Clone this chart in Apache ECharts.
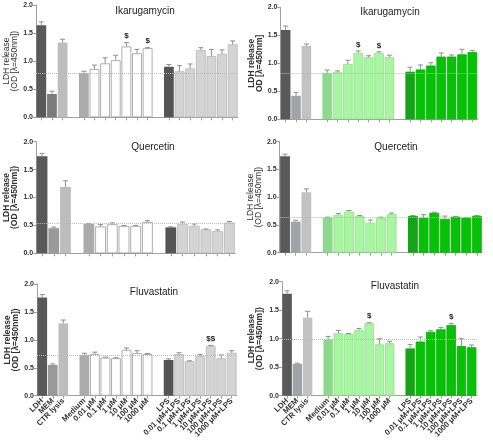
<!DOCTYPE html>
<html><head><meta charset="utf-8">
<script src="https://cdn.jsdelivr.net/npm/echarts@6/dist/echarts.min.js"></script>
<style>html,body{margin:0;padding:0;background:#fff}#c{width:493px;height:444px}</style>
</head><body><div id="c"></div>
<script>
// ---------- DATA ----------
const controlLabels = ['LDH', 'MEM', 'CTR lysis'];
const concLabels6 = ['0.01 μM', '0.1 μM', '1 μM', '10 μM', '100 μM', '1000 μM'];
const concLabels5 = ['0.01 μM', '0.1 μM', '1 μM', '10 μM', '100 μM'];
const yTickValues = [0, 0.5, 1.0, 1.5, 2.0];
const titles = ['Ikarugamycin', 'Quercetin', 'Fluvastatin'];

// order: LDH, MEM, CTR lysis, Medium, concentrations..., LPS, concentrations+LPS...
const ikaLeftVals = [1.64, 0.415, 1.33, 0.79, 0.86, 0.96, 1.015, 1.26, 1.14, 1.23, 0.90, 0.82, 0.87, 1.20, 1.09, 1.13, 1.30];
const ikaLeftErr  = [0.06, 0.05, 0.06, 0.03, 0.07, 0.10, 0.09, 0.07, 0.07, 0.01, 0.04, 0.10, 0.08, 0.04, 0.12, 0.07, 0.06];
const ikaLeftSig  = ['', '', '', '', '', '', '', '$', '', '$', '', '', '', '', '', '', ''];

const ikaRightVals = [1.595, 0.42, 1.31, 0.83, 0.84, 0.99, 1.185, 1.11, 1.185, 1.11, 0.85, 0.89, 0.96, 1.12, 1.12, 1.16, 1.20];
const ikaRightErr  = [0.07, 0.06, 0.035, 0.05, 0.025, 0.065, 0.035, 0.025, 0.02, 0.035, 0.08, 0.08, 0.05, 0.065, 0.03, 0.09, 0.03];
const ikaRightSig  = ['', '', '', '', '', '', '$', '', '$', '', '', '', '', '', '', '', ''];

const queLeftVals = [1.74, 0.45, 1.19, 0.525, 0.48, 0.52, 0.49, 0.49, 0.56, 0.465, 0.525, 0.49, 0.43, 0.40, 0.55];
const queLeftErr  = [0.05, 0.02, 0.11, 0.01, 0.035, 0.025, 0.01, 0.01, 0.025, 0.01, 0.035, 0.035, 0.005, 0.02, 0.02];
const queLeftSig  = ['', '', '', '', '', '', '', '', '', '', '', '', '', '', ''];

const queRightVals = [1.74, 0.56, 1.09, 0.63, 0.68, 0.74, 0.66, 0.54, 0.63, 0.695, 0.66, 0.63, 0.72, 0.61, 0.65, 0.63, 0.665];
const queRightErr  = [0.035, 0.025, 0.06, 0.01, 0.025, 0.02, 0.01, 0.05, 0.01, 0.02, 0.01, 0.055, 0.01, 0.05, 0.005, 0.005, 0.005];
const queRightSig  = ['', '', '', '', '', '', '', '', '', '', '', '', '', '', '', '', ''];

const fluLeftVals = [1.76, 0.55, 1.295, 0.73, 0.745, 0.68, 0.67, 0.82, 0.76, 0.745, 0.64, 0.745, 0.62, 0.71, 0.89, 0.67, 0.77];
const fluLeftErr  = [0.05, 0.02, 0.06, 0.03, 0.035, 0.01, 0.01, 0.035, 0.045, 0.01, 0.02, 0.025, 0.005, 0.025, 0.01, 0.06, 0.035];
const fluLeftSig  = ['', '', '', '', '', '', '', '', '', '', '', '', '', '', '$$', '', ''];

const fluRightVals = [1.79, 0.56, 1.37, 0.99, 1.095, 1.08, 1.15, 1.27, 0.90, 0.92, 0.83, 0.95, 1.12, 1.165, 1.24, 0.87, 0.85];
const fluRightErr  = [0.05, 0.01, 0.11, 0.05, 0.05, 0.01, 0.03, 0.01, 0.10, 0.035, 0.07, 0.08, 0.02, 0.03, 0.025, 0.13, 0.04];
const fluRightSig  = ['', '', '', '', '', '', '', '$', '', '', '', '', '', '', '$', '', ''];

// ---------- STYLES / LAYOUT ----------
const grayPal = {ldh:'#595959', mem:'#999999', ctr:'#bdbdbd', med:'#ababab', conc:'#ffffff', concB:'#9a9a9a', lps:'#555555', comb:'#d4d4d4', combB:'#b8b8b8'};
const greenPal = {ldh:'#595959', mem:'#a2a2a9', ctr:'#c2c2c2', med:'#8cd98c', conc:'#a8f5a2', concB:'#92e08c', lps:'#17a317', comb:'#07c107', combB:'#06b006'};

const panels = [
  {vals:ikaLeftVals, err:ikaLeftErr, sig:ikaLeftSig, n:6, pal:Object.assign({}, grayPal, {mem:'#7b7b7b'}), grid:{left:36, top:5, width:202, height:112.3}, title:titles[0], tx:140, ty:1, nameBold:false, nameLines:['LDH release','(OD [λ=450nm])'], nameGap:15, labels:false},
  {vals:ikaRightVals, err:ikaRightErr, sig:ikaRightSig, n:6, pal:greenPal, grid:{left:280.5, top:7.3, width:197, height:112}, title:titles[0], tx:385, ty:2, nameBold:true, nameLines:['LDH release','OD [λ=450nm]'], nameGap:11, labels:false},
  {vals:queLeftVals, err:queLeftErr, sig:queLeftSig, n:5, pal:grayPal, grid:{left:36.2, top:141.7, width:199, height:111.6}, title:titles[1], tx:148, ty:137, nameBold:true, nameLines:['LDH release','(OD [λ=450nm])'], nameGap:15, labels:false},
  {vals:queRightVals, err:queRightErr, sig:queRightSig, n:6, pal:greenPal, grid:{left:279.7, top:141.7, width:202.5, height:111}, title:titles[1], tx:391, ty:137, nameBold:false, nameLines:['LDH release','(OD [λ=450nm])'], nameGap:17, labels:false},
  {vals:fluLeftVals, err:fluLeftErr, sig:fluLeftSig, n:6, pal:grayPal, grid:{left:37, top:284, width:200, height:111.7}, title:titles[2], tx:149, ty:282, nameBold:true, nameLines:['LDH release','(OD [λ=450nm])'], nameGap:13, labels:true},
  {vals:fluRightVals, err:fluRightErr, sig:fluRightSig, n:6, pal:greenPal, grid:{left:282, top:281.7, width:194.8, height:114}, title:titles[2], tx:390, ty:276, nameBold:true, nameLines:['LDH release','(OD [λ=450nm])'], nameGap:18, labels:true}
];

const FONT = 'Liberation Sans, Arial, sans-serif';

function buildCats(n) {
  const conc = n === 6 ? concLabels6 : concLabels5;
  return [...controlLabels, ' ', 'Medium', ...conc, '  ', 'LPS', ...conc.map(c => c + '+LPS')];
}
function slotOf(p, n) { return p < 3 ? p : (p < 4 + n ? p + 1 : p + 2); }
function kindOf(p, n) {
  if (p === 0) return 'ldh'; if (p === 1) return 'mem'; if (p === 2) return 'ctr';
  if (p === 3) return 'med'; if (p < 4 + n) return 'conc'; if (p === 4 + n) return 'lps'; return 'comb';
}

const option = {animation:false, backgroundColor:'#fff', title:[], grid:[], xAxis:[], yAxis:[], series:[]};

panels.forEach((pn, i) => {
  const cats = buildCats(pn.n);
  option.title.push({text:pn.title, left:pn.tx, top:pn.ty, textAlign:'center',
    textStyle:{fontFamily:FONT, fontSize:10, fontWeight:'normal', color:'#222'}});
  option.grid.push(Object.assign({containLabel:false}, pn.grid));
  option.xAxis.push({type:'category', gridIndex:i, data:cats,
    axisLine:{show:true, lineStyle:{color:'#a0a0a0', width:1}},
    axisTick:{show:true, alignWithLabel:true, length:3, interval:(idx, v) => String(v).trim() !== '', lineStyle:{color:'#a0a0a0'}},
    axisLabel:{show:pn.labels, interval:0, rotate:45, fontFamily:FONT, fontSize:7.8, fontWeight:'bold', color:'#333', margin:4}
  });
  option.yAxis.push({type:'value', gridIndex:i, min:yTickValues[0], max:yTickValues[yTickValues.length-1], interval:yTickValues[1]-yTickValues[0],
    name:pn.nameLines.join('\n'), nameLocation:'middle', nameRotate:90, nameGap:pn.nameGap,
    nameTextStyle:{fontFamily:FONT, fontSize:8.5, lineHeight:8, fontWeight:pn.nameBold ? 'bold' : 'normal', color:'#333'},
    axisLine:{show:true, lineStyle:{color:'#a0a0a0', width:1}},
    axisTick:{show:true, length:3, lineStyle:{color:'#a0a0a0'}},
    axisLabel:{fontFamily:FONT, fontSize:7, fontWeight:'bold', color:'#333', margin:3, formatter:v => v.toFixed(1)},
    splitLine:{show:false}
  });
  const barData = cats.map(() => null);
  const errData = [];
  pn.vals.forEach((v, p) => {
    const s = slotOf(p, pn.n), k = kindOf(p, pn.n);
    const border = k === 'conc' ? pn.pal.concB : (k === 'comb' ? pn.pal.combB : pn.pal[k]);
    barData[s] = {value:v, itemStyle:{color:pn.pal[k], borderColor:border, borderWidth:(k === 'conc' || k === 'comb') ? 0.8 : 0}};
    errData.push([s, v, pn.err[p], pn.sig[p]]);
  });
  const sig = pn.sig;
  option.series.push({type:'bar', xAxisIndex:i, yAxisIndex:i, data:barData, barCategoryGap:'8%', z:2,
    markLine:{silent:true, symbol:['none','none'], label:{show:false},
      lineStyle:{type:'dotted', color:'#b8b8b8', width:1}, data:[{yAxis:pn.vals[3]}]}
  });
  option.series.push({type:'custom', xAxisIndex:i, yAxisIndex:i, z:3, data:errData.map(d => [d[0], d[1], d[2]]),
    encode:{x:0, y:1},
    renderItem:(params, api) => {
      const x = api.value(0), v = api.value(1), e = api.value(2);
      const base = api.coord([x, v]);
      const top = api.coord([x, v + e]);
      const ch = [
        {type:'line', shape:{x1:base[0], y1:base[1], x2:top[0], y2:top[1]}, style:{stroke:'#8f8f8f', lineWidth:1}},
        {type:'line', shape:{x1:top[0]-2.5, y1:top[1], x2:top[0]+2.5, y2:top[1]}, style:{stroke:'#8f8f8f', lineWidth:1}}
      ];
      const s = sig[params.dataIndex];
      if (s) ch.push({type:'text', x:top[0], y:top[1]-2.5, style:{text:s, align:'center', verticalAlign:'bottom', font:'bold 8px ' + FONT, fill:'#222'}});
      return {type:'group', children:ch};
    }
  });
});

const chart = echarts.init(document.getElementById('c'), null, {renderer:'canvas'});
chart.setOption(option);
</script>
</body></html>
